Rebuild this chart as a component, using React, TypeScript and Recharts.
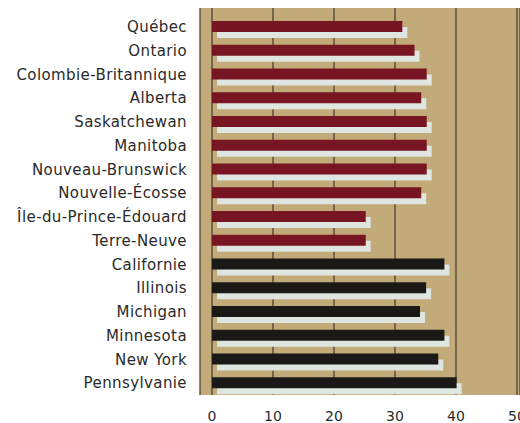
import { BarChart, Bar, XAxis, YAxis, CartesianGrid, Cell } from 'recharts'

const regions = [
  'Québec',
  'Ontario',
  'Colombie-Britannique',
  'Alberta',
  'Saskatchewan',
  'Manitoba',
  'Nouveau-Brunswick',
  'Nouvelle-Écosse',
  'Île-du-Prince-Édouard',
  'Terre-Neuve',
  'Californie',
  'Illinois',
  'Michigan',
  'Minnesota',
  'New York',
  'Pennsylvanie',
]
const values = [31.2, 33.2, 35.2, 34.3, 35.2, 35.2, 35.2, 34.3, 25.2, 25.2, 38.1, 35.1, 34.1, 38.1, 37.1, 40.1]
const countries = ['CA', 'CA', 'CA', 'CA', 'CA', 'CA', 'CA', 'CA', 'CA', 'CA', 'US', 'US', 'US', 'US', 'US', 'US']
const xTicks = [0, 10, 20, 30, 40, 50]

const colors: Record<string, string> = { CA: '#771622', US: '#1b1918' }

const data = regions.map((name, i) => ({ name, value: values[i], country: countries[i] }))

// bar with a pale drop shadow offset down/right
const ShadowBar = (props: any) => {
  const { x, y, width, height, fill } = props
  if (width <= 0) return null
  return (
    <g>
      <rect x={x + 5} y={y + 6} width={width} height={height} fill="#dfe5e0" />
      <rect x={x} y={y} width={width} height={height} fill={fill} />
    </g>
  )
}

export default function App() {
  return (
    <div style={{ position: 'absolute', left: 0, top: 0 }}>
      <BarChart
        width={520}
        height={423}
        data={data}
        layout="vertical"
        margin={{ top: 8, right: 0, bottom: 0, left: 0 }}
        barSize={11}
      >
        <CartesianGrid
          horizontal={false}
          stroke="#3e3a2e"
          strokeWidth={1.2}
          fill="#c3aa79"
          fillOpacity={1}
        />
        <XAxis
          type="number"
          domain={[0, 50]}
          ticks={xTicks}
          interval={0}
          axisLine={false}
          tickLine={false}
          tickSize={0}
          tickMargin={16}
          height={28}
          padding={{ left: 12, right: 3 }}
          tick={{ fill: '#2a2a2a', fontSize: 14, fontFamily: 'DejaVu Sans' }}
        />
        <YAxis
          type="category"
          dataKey="name"
          width={200}
          interval={0}
          axisLine={false}
          tickLine={false}
          tickSize={0}
          tickMargin={13}
          padding={{ top: 7, bottom: 0 }}
          tick={{ fill: '#2a2a2a', fontSize: 15, fontFamily: 'DejaVu Sans', letterSpacing: 0.4 }}
        />
        <Bar dataKey="value" shape={ShadowBar} isAnimationActive={false}>
          {data.map((d) => (
            <Cell key={d.name} fill={colors[d.country]} />
          ))}
        </Bar>
      </BarChart>
    </div>
  )
}
